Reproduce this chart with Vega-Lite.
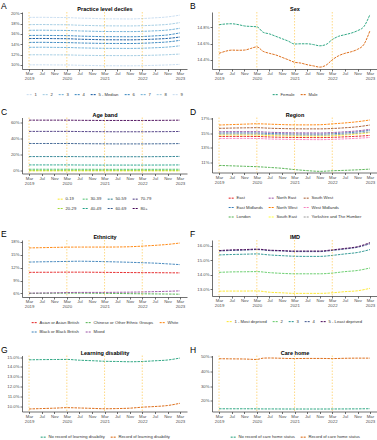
{
"$schema": "https://vega.github.io/schema/vega-lite/v6.json",
"padding": {"left": 1, "top": 2, "right": 0, "bottom": 0},
"datasets": {
"R": [{"t":"2019-03-01"},{"t":"2020-03-01"},{"t":"2021-03-01"},{"t":"2022-03-01"}],
"A": [
{"t":"2019-03-01","1":10.00,"2":11.95,"3":13.40,"4":14.35,"5 - Median":15.10,"6":15.70,"7":16.70,"8":17.80,"9":19.20},
{"t":"2019-07-01","1":10.01,"2":11.96,"3":13.42,"4":14.37,"5 - Median":15.12,"6":15.72,"7":16.72,"8":17.82,"9":19.22},
{"t":"2019-11-01","1":9.99,"2":11.94,"3":13.39,"4":14.34,"5 - Median":15.09,"6":15.69,"7":16.69,"8":17.79,"9":19.19},
{"t":"2020-03-01","1":9.98,"2":11.93,"3":13.37,"4":14.32,"5 - Median":15.07,"6":15.67,"7":16.67,"8":17.77,"9":19.17},
{"t":"2020-07-01","1":9.92,"2":11.87,"3":13.30,"4":14.25,"5 - Median":14.98,"6":15.58,"7":16.58,"8":17.68,"9":19.07},
{"t":"2020-11-01","1":9.88,"2":11.83,"3":13.25,"4":14.20,"5 - Median":14.92,"6":15.52,"7":16.52,"8":17.62,"9":19.01},
{"t":"2021-03-01","1":9.84,"2":11.80,"3":13.21,"4":14.16,"5 - Median":14.87,"6":15.47,"7":16.47,"8":17.57,"9":18.93},
{"t":"2021-07-01","1":9.83,"2":11.80,"3":13.20,"4":14.15,"5 - Median":14.86,"6":15.46,"7":16.46,"8":17.56,"9":18.92},
{"t":"2021-11-01","1":9.82,"2":11.79,"3":13.19,"4":14.14,"5 - Median":14.85,"6":15.45,"7":16.45,"8":17.55,"9":18.90},
{"t":"2022-03-01","1":9.85,"2":11.82,"3":13.23,"4":14.19,"5 - Median":14.90,"6":15.50,"7":16.50,"8":17.60,"9":18.98},
{"t":"2022-07-01","1":9.91,"2":11.88,"3":13.32,"4":14.30,"5 - Median":15.00,"6":15.62,"7":16.60,"8":17.70,"9":19.12},
{"t":"2022-11-01","1":9.99,"2":11.97,"3":13.45,"4":14.45,"5 - Median":15.13,"6":15.80,"7":16.75,"8":17.85,"9":19.30},
{"t":"2023-03-01","1":10.10,"2":12.10,"3":13.70,"4":14.75,"5 - Median":15.40,"6":16.20,"7":17.10,"8":18.20,"9":19.65}
],
"B": [
{"t":"2019-03-01","Female":14.833,"Male":14.480},
{"t":"2019-05-01","Female":14.842,"Male":14.505},
{"t":"2019-07-01","Female":14.845,"Male":14.520},
{"t":"2019-09-01","Female":14.835,"Male":14.518},
{"t":"2019-11-01","Female":14.818,"Male":14.520},
{"t":"2020-01-01","Female":14.812,"Male":14.540},
{"t":"2020-03-01","Female":14.808,"Male":14.560},
{"t":"2020-05-01","Female":14.740,"Male":14.505},
{"t":"2020-07-01","Female":14.720,"Male":14.480},
{"t":"2020-09-01","Female":14.690,"Male":14.460},
{"t":"2020-11-01","Female":14.660,"Male":14.430},
{"t":"2021-01-01","Female":14.630,"Male":14.400},
{"t":"2021-03-01","Female":14.595,"Male":14.370},
{"t":"2021-05-01","Female":14.598,"Male":14.360},
{"t":"2021-07-01","Female":14.598,"Male":14.340},
{"t":"2021-09-01","Female":14.588,"Male":14.325},
{"t":"2021-11-01","Female":14.573,"Male":14.310},
{"t":"2022-01-01","Female":14.590,"Male":14.335},
{"t":"2022-03-01","Female":14.650,"Male":14.400},
{"t":"2022-05-01","Female":14.690,"Male":14.450},
{"t":"2022-07-01","Female":14.710,"Male":14.480},
{"t":"2022-09-01","Female":14.730,"Male":14.500},
{"t":"2022-11-01","Female":14.760,"Male":14.530},
{"t":"2023-01-01","Female":14.810,"Male":14.590},
{"t":"2023-03-01","Female":14.960,"Male":14.760}
],
"C": [
{"t":"2019-03-01","0-19":0.05,"20-29":0.70,"30-39":2.10,"40-49":7.50,"50-59":17.90,"60-69":34.20,"70-79":49.30,"80+":63.30},
{"t":"2019-07-01","0-19":0.05,"20-29":0.70,"30-39":2.10,"40-49":7.50,"50-59":17.90,"60-69":34.20,"70-79":49.30,"80+":63.30},
{"t":"2019-11-01","0-19":0.05,"20-29":0.70,"30-39":2.10,"40-49":7.50,"50-59":17.90,"60-69":34.20,"70-79":49.30,"80+":63.30},
{"t":"2020-03-01","0-19":0.05,"20-29":0.70,"30-39":2.10,"40-49":7.50,"50-59":17.90,"60-69":34.20,"70-79":49.30,"80+":63.30},
{"t":"2020-07-01","0-19":0.05,"20-29":0.68,"30-39":2.05,"40-49":7.40,"50-59":17.80,"60-69":34.00,"70-79":49.10,"80+":63.10},
{"t":"2020-11-01","0-19":0.05,"20-29":0.68,"30-39":2.05,"40-49":7.35,"50-59":17.75,"60-69":33.90,"70-79":49.00,"80+":63.00},
{"t":"2021-03-01","0-19":0.05,"20-29":0.67,"30-39":2.00,"40-49":7.30,"50-59":17.70,"60-69":33.80,"70-79":48.90,"80+":62.90},
{"t":"2021-07-01","0-19":0.05,"20-29":0.67,"30-39":2.00,"40-49":7.30,"50-59":17.70,"60-69":33.70,"70-79":48.80,"80+":62.90},
{"t":"2021-11-01","0-19":0.05,"20-29":0.67,"30-39":2.00,"40-49":7.30,"50-59":17.70,"60-69":33.70,"70-79":48.80,"80+":62.90},
{"t":"2022-03-01","0-19":0.05,"20-29":0.67,"30-39":2.00,"40-49":7.30,"50-59":17.70,"60-69":33.70,"70-79":48.80,"80+":62.90},
{"t":"2022-07-01","0-19":0.05,"20-29":0.68,"30-39":2.02,"40-49":7.35,"50-59":17.80,"60-69":33.80,"70-79":48.90,"80+":63.00},
{"t":"2022-11-01","0-19":0.05,"20-29":0.68,"30-39":2.05,"40-49":7.40,"50-59":17.90,"60-69":33.90,"70-79":49.00,"80+":63.10},
{"t":"2023-03-01","0-19":0.05,"20-29":0.70,"30-39":2.10,"40-49":7.50,"50-59":18.10,"60-69":34.10,"70-79":49.20,"80+":63.30}
],
"D": [
{"t":"2019-03-01","East":14.58,"East Midlands":15.05,"London":10.58,"North East":15.23,"North West":16.16,"South East":14.77,"South West":15.70,"West Midlands":14.30,"Yorkshire and The Humber":14.90},
{"t":"2019-07-01","East":14.59,"East Midlands":15.07,"London":10.52,"North East":15.25,"North West":16.22,"South East":14.79,"South West":15.74,"West Midlands":14.31,"Yorkshire and The Humber":14.92},
{"t":"2019-11-01","East":14.59,"East Midlands":15.07,"London":10.46,"North East":15.25,"North West":16.28,"South East":14.79,"South West":15.77,"West Midlands":14.31,"Yorkshire and The Humber":14.92},
{"t":"2020-03-01","East":14.58,"East Midlands":15.06,"London":10.40,"North East":15.24,"North West":16.33,"South East":14.78,"South West":15.79,"West Midlands":14.30,"Yorkshire and The Humber":14.91},
{"t":"2020-07-01","East":14.51,"East Midlands":14.99,"London":10.30,"North East":15.16,"North West":16.28,"South East":14.71,"South West":15.72,"West Midlands":14.23,"Yorkshire and The Humber":14.84},
{"t":"2020-11-01","East":14.47,"East Midlands":14.95,"London":10.18,"North East":15.11,"North West":16.22,"South East":14.67,"South West":15.67,"West Midlands":14.19,"Yorkshire and The Humber":14.80},
{"t":"2021-03-01","East":14.44,"East Midlands":14.92,"London":10.00,"North East":15.08,"North West":16.18,"South East":14.64,"South West":15.64,"West Midlands":14.16,"Yorkshire and The Humber":14.77},
{"t":"2021-07-01","East":14.43,"East Midlands":14.91,"London":9.86,"North East":15.07,"North West":16.18,"South East":14.63,"South West":15.63,"West Midlands":14.15,"Yorkshire and The Humber":14.76},
{"t":"2021-11-01","East":14.42,"East Midlands":14.90,"London":9.76,"North East":15.06,"North West":16.20,"South East":14.62,"South West":15.63,"West Midlands":14.14,"Yorkshire and The Humber":14.75},
{"t":"2022-03-01","East":14.46,"East Midlands":14.96,"London":9.84,"North East":15.12,"North West":16.32,"South East":14.68,"South West":15.68,"West Midlands":14.18,"Yorkshire and The Humber":14.80},
{"t":"2022-07-01","East":14.53,"East Midlands":15.06,"London":9.90,"North East":15.22,"North West":16.45,"South East":14.78,"South West":15.78,"West Midlands":14.25,"Yorkshire and The Humber":14.90},
{"t":"2022-11-01","East":14.61,"East Midlands":15.20,"London":9.97,"North East":15.35,"North West":16.62,"South East":14.92,"South West":15.92,"West Midlands":14.33,"Yorkshire and The Humber":15.02},
{"t":"2023-03-01","East":14.72,"East Midlands":15.42,"London":10.07,"North East":15.56,"North West":16.86,"South East":15.10,"South West":16.16,"West Midlands":14.44,"Yorkshire and The Humber":15.20}
],
"E": [
{"t":"2019-03-01","Asian or Asian British":10.90,"Black or Black British":13.30,"Chinese or Other Ethnic Groups":6.00,"Mixed":6.05,"White":16.60},
{"t":"2019-07-01","Asian or Asian British":10.92,"Black or Black British":13.36,"Chinese or Other Ethnic Groups":6.02,"Mixed":6.08,"White":16.66},
{"t":"2019-11-01","Asian or Asian British":10.93,"Black or Black British":13.40,"Chinese or Other Ethnic Groups":6.04,"Mixed":6.12,"White":16.72},
{"t":"2020-03-01","Asian or Asian British":10.95,"Black or Black British":13.45,"Chinese or Other Ethnic Groups":6.05,"Mixed":6.18,"White":16.78},
{"t":"2020-07-01","Asian or Asian British":10.95,"Black or Black British":13.50,"Chinese or Other Ethnic Groups":6.04,"Mixed":6.22,"White":16.80},
{"t":"2020-11-01","Asian or Asian British":10.93,"Black or Black British":13.46,"Chinese or Other Ethnic Groups":6.02,"Mixed":6.22,"White":16.80},
{"t":"2021-03-01","Asian or Asian British":10.90,"Black or Black British":13.40,"Chinese or Other Ethnic Groups":6.00,"Mixed":6.22,"White":16.80},
{"t":"2021-07-01","Asian or Asian British":10.88,"Black or Black British":13.33,"Chinese or Other Ethnic Groups":5.97,"Mixed":6.25,"White":16.82},
{"t":"2021-11-01","Asian or Asian British":10.85,"Black or Black British":13.25,"Chinese or Other Ethnic Groups":5.93,"Mixed":6.28,"White":16.88},
{"t":"2022-03-01","Asian or Asian British":10.83,"Black or Black British":13.15,"Chinese or Other Ethnic Groups":5.90,"Mixed":6.33,"White":17.02},
{"t":"2022-07-01","Asian or Asian British":10.82,"Black or Black British":13.05,"Chinese or Other Ethnic Groups":5.87,"Mixed":6.40,"White":17.20},
{"t":"2022-11-01","Asian or Asian British":10.80,"Black or Black British":12.88,"Chinese or Other Ethnic Groups":5.84,"Mixed":6.48,"White":17.42},
{"t":"2023-03-01","Asian or Asian British":10.78,"Black or Black British":12.70,"Chinese or Other Ethnic Groups":5.80,"Mixed":6.58,"White":17.75}
],
"F": [
{"t":"2019-03-01","1 - Most deprived":12.85,"2":14.15,"3":15.35,"4":15.62,"5 - Least deprived":15.65},
{"t":"2019-07-01","1 - Most deprived":12.86,"2":14.18,"3":15.38,"4":15.66,"5 - Least deprived":15.70},
{"t":"2019-11-01","1 - Most deprived":12.86,"2":14.19,"3":15.40,"4":15.68,"5 - Least deprived":15.72},
{"t":"2020-03-01","1 - Most deprived":12.87,"2":14.20,"3":15.42,"4":15.72,"5 - Least deprived":15.75},
{"t":"2020-07-01","1 - Most deprived":12.78,"2":14.13,"3":15.35,"4":15.65,"5 - Least deprived":15.68},
{"t":"2020-11-01","1 - Most deprived":12.74,"2":14.08,"3":15.30,"4":15.62,"5 - Least deprived":15.65},
{"t":"2021-03-01","1 - Most deprived":12.70,"2":14.05,"3":15.26,"4":15.58,"5 - Least deprived":15.62},
{"t":"2021-07-01","1 - Most deprived":12.70,"2":14.05,"3":15.25,"4":15.58,"5 - Least deprived":15.62},
{"t":"2021-11-01","1 - Most deprived":12.70,"2":14.05,"3":15.25,"4":15.58,"5 - Least deprived":15.62},
{"t":"2022-03-01","1 - Most deprived":12.74,"2":14.10,"3":15.32,"4":15.66,"5 - Least deprived":15.70},
{"t":"2022-07-01","1 - Most deprived":12.82,"2":14.20,"3":15.42,"4":15.76,"5 - Least deprived":15.80},
{"t":"2022-11-01","1 - Most deprived":12.88,"2":14.28,"3":15.52,"4":15.88,"5 - Least deprived":15.92},
{"t":"2023-03-01","1 - Most deprived":13.05,"2":14.45,"3":15.72,"4":16.12,"5 - Least deprived":16.20}
],
"G": [
{"t":"2019-03-01","No record of learning disability":14.72,"Record of learning disability":9.70},
{"t":"2019-07-01","No record of learning disability":14.74,"Record of learning disability":9.74},
{"t":"2019-11-01","No record of learning disability":14.75,"Record of learning disability":9.78},
{"t":"2020-03-01","No record of learning disability":14.76,"Record of learning disability":9.83},
{"t":"2020-07-01","No record of learning disability":14.68,"Record of learning disability":9.80},
{"t":"2020-11-01","No record of learning disability":14.63,"Record of learning disability":9.76},
{"t":"2021-03-01","No record of learning disability":14.57,"Record of learning disability":9.72},
{"t":"2021-07-01","No record of learning disability":14.55,"Record of learning disability":9.74},
{"t":"2021-11-01","No record of learning disability":14.52,"Record of learning disability":9.78},
{"t":"2022-03-01","No record of learning disability":14.55,"Record of learning disability":9.88},
{"t":"2022-07-01","No record of learning disability":14.62,"Record of learning disability":9.95},
{"t":"2022-11-01","No record of learning disability":14.70,"Record of learning disability":10.05},
{"t":"2023-03-01","No record of learning disability":14.90,"Record of learning disability":10.28}
],
"H": [
{"t":"2019-03-01","No record of care home status":14.65,"Record of care home status":48.8},
{"t":"2019-07-01","No record of care home status":14.65,"Record of care home status":48.7},
{"t":"2019-11-01","No record of care home status":14.65,"Record of care home status":48.6},
{"t":"2020-03-01","No record of care home status":14.60,"Record of care home status":48.3},
{"t":"2020-05-01","No record of care home status":14.55,"Record of care home status":49.2},
{"t":"2020-07-01","No record of care home status":14.55,"Record of care home status":49.3},
{"t":"2020-11-01","No record of care home status":14.52,"Record of care home status":49.1},
{"t":"2021-03-01","No record of care home status":14.50,"Record of care home status":48.9},
{"t":"2021-07-01","No record of care home status":14.50,"Record of care home status":49.0},
{"t":"2021-11-01","No record of care home status":14.50,"Record of care home status":49.0},
{"t":"2022-03-01","No record of care home status":14.52,"Record of care home status":48.9},
{"t":"2022-07-01","No record of care home status":14.55,"Record of care home status":49.1},
{"t":"2022-11-01","No record of care home status":14.60,"Record of care home status":49.2},
{"t":"2023-03-01","No record of care home status":14.70,"Record of care home status":49.2}
]
},
"columns": 2,
"spacing": {"row": 10.5, "column": 3},
"align": "each",
"resolve": {"scale": {"x": "independent", "y": "independent", "color": "independent"}, "axis": {"x": "independent", "y": "independent"}, "legend": {"color": "independent"}},
"concat": [
{"width": 165, "height": 57, "title": {"text": "A", "dx": -21},
 "layer": [
  {"data": {"name": "A"}, "transform": [{"fold": ["1","2","3","4","5 - Median","6","7","8","9"], "as": ["k","v"]}],
   "mark": {"type": "line", "strokeWidth": 0.9, "strokeDash": [2.5,1], "interpolate": "monotone"},
   "encoding": {
    "x": {"field":"t","type":"temporal","scale":{"type":"utc","domain":[{"year":2018,"month":12,"date":23,"utc":true},{"year":2023,"month":5,"date":8,"utc":true}]},"axis":{"title":null,"labelOverlap":false,"tickCount":30,"values":[{"year":2019,"month":3,"date":1,"utc":true},{"year":2019,"month":7,"date":1,"utc":true},{"year":2019,"month":11,"date":1,"utc":true},{"year":2020,"month":3,"date":1,"utc":true},{"year":2020,"month":7,"date":1,"utc":true},{"year":2020,"month":11,"date":1,"utc":true},{"year":2021,"month":3,"date":1,"utc":true},{"year":2021,"month":7,"date":1,"utc":true},{"year":2021,"month":11,"date":1,"utc":true},{"year":2022,"month":3,"date":1,"utc":true},{"year":2022,"month":7,"date":1,"utc":true},{"year":2022,"month":11,"date":1,"utc":true},{"year":2023,"month":3,"date":1,"utc":true}],"labelExpr":"utcmonth(datum.value) == 2 ? [utcFormat(datum.value, '%b'), utcFormat(datum.value, '%Y')] : utcFormat(datum.value, '%b')"}},
    "y": {"field":"v","type":"quantitative","scale":{"domain":[9.2,20.25],"nice":false,"zero":false},"axis":{"title":"Practice level deciles","values":[10,12,14,16,18,20],"labelExpr":"datum.value + '%'"}},
    "color": {"field":"k","type":"nominal","scale":{"domain":["1","2","3","4","5 - Median","6","7","8","9"],"range":["#c6dbef","#9ecae1","#6baed6","#3182bd","#08519c","#3182bd","#6baed6","#9ecae1","#c6dbef"]},"legend":{"title":null,"columns":9}}
   }},
  {"data": {"name": "R"}, "mark": {"type":"rule","color":"#ffb000","strokeDash":[1.5,1.5],"strokeWidth":0.8,"opacity":0.6},
   "encoding": {"x": {"field":"t","type":"temporal","scale":{"type":"utc","domain":[{"year":2018,"month":12,"date":23,"utc":true},{"year":2023,"month":5,"date":8,"utc":true}]}}}}
 ]},
{"width": 165, "height": 57, "title": {"text": "B", "dx": -22},
 "layer": [
  {"data": {"name": "B"}, "transform": [{"fold": ["Female","Male"], "as": ["k","v"]}],
   "mark": {"type": "line", "strokeWidth": 0.9, "strokeDash": [2.5,1], "interpolate": "monotone"},
   "encoding": {
    "x": {"field":"t","type":"temporal","scale":{"type":"utc","domain":[{"year":2018,"month":12,"date":23,"utc":true},{"year":2023,"month":5,"date":8,"utc":true}]},"axis":{"title":null,"labelOverlap":false,"tickCount":30,"values":[{"year":2019,"month":3,"date":1,"utc":true},{"year":2019,"month":7,"date":1,"utc":true},{"year":2019,"month":11,"date":1,"utc":true},{"year":2020,"month":3,"date":1,"utc":true},{"year":2020,"month":7,"date":1,"utc":true},{"year":2020,"month":11,"date":1,"utc":true},{"year":2021,"month":3,"date":1,"utc":true},{"year":2021,"month":7,"date":1,"utc":true},{"year":2021,"month":11,"date":1,"utc":true},{"year":2022,"month":3,"date":1,"utc":true},{"year":2022,"month":7,"date":1,"utc":true},{"year":2022,"month":11,"date":1,"utc":true},{"year":2023,"month":3,"date":1,"utc":true}],"labelExpr":"utcmonth(datum.value) == 2 ? [utcFormat(datum.value, '%b'), utcFormat(datum.value, '%Y')] : utcFormat(datum.value, '%b')"}},
    "y": {"field":"v","type":"quantitative","scale":{"domain":[14.287,14.99],"nice":false,"zero":false},"axis":{"title":"Sex","values":[14.4,14.6,14.8],"labelExpr":"format(datum.value, '.1f') + '%'"}},
    "color": {"field":"k","type":"nominal","scale":{"domain":["Female","Male"],"range":["#1b9e77","#d95f02"]},"legend":{"title":null,"columns":2}}
   }},
  {"data": {"name": "R"}, "mark": {"type":"rule","color":"#ffb000","strokeDash":[1.5,1.5],"strokeWidth":0.8,"opacity":0.6},
   "encoding": {"x": {"field":"t","type":"temporal","scale":{"type":"utc","domain":[{"year":2018,"month":12,"date":23,"utc":true},{"year":2023,"month":5,"date":8,"utc":true}]}}}}
 ]},
{"width": 165, "height": 56, "title": {"text": "C", "dx": -21},
 "layer": [
  {"data": {"name": "C"}, "transform": [{"fold": ["0-19","20-29","30-39","40-49","50-59","60-69","70-79","80+"], "as": ["k","v"]}],
   "mark": {"type": "line", "strokeWidth": 0.9, "strokeDash": [2.5,1], "interpolate": "monotone"},
   "encoding": {
    "x": {"field":"t","type":"temporal","scale":{"type":"utc","domain":[{"year":2018,"month":12,"date":23,"utc":true},{"year":2023,"month":5,"date":8,"utc":true}]},"axis":{"title":null,"labelOverlap":false,"tickCount":30,"values":[{"year":2019,"month":3,"date":1,"utc":true},{"year":2019,"month":7,"date":1,"utc":true},{"year":2019,"month":11,"date":1,"utc":true},{"year":2020,"month":3,"date":1,"utc":true},{"year":2020,"month":7,"date":1,"utc":true},{"year":2020,"month":11,"date":1,"utc":true},{"year":2021,"month":3,"date":1,"utc":true},{"year":2021,"month":7,"date":1,"utc":true},{"year":2021,"month":11,"date":1,"utc":true},{"year":2022,"month":3,"date":1,"utc":true},{"year":2022,"month":7,"date":1,"utc":true},{"year":2022,"month":11,"date":1,"utc":true},{"year":2023,"month":3,"date":1,"utc":true}],"labelExpr":"utcmonth(datum.value) == 2 ? [utcFormat(datum.value, '%b'), utcFormat(datum.value, '%Y')] : utcFormat(datum.value, '%b')"}},
    "y": {"field":"v","type":"quantitative","scale":{"domain":[-3.2,66.6],"nice":false,"zero":false},"axis":{"title":"Age band","values":[0,20,40,60],"labelExpr":"datum.value + '%'"}},
    "color": {"field":"k","type":"nominal","scale":{"domain":["0-19","30-39","50-59","70-79","20-29","40-49","60-69","80+"],"range":["#fde725","#4ac16d","#277f8e","#46337e","#9fda3a","#1fa187","#365c8d","#440154"]},"legend":{"title":null,"columns":4}}
   }},
  {"data": {"name": "R"}, "mark": {"type":"rule","color":"#ffb000","strokeDash":[1.5,1.5],"strokeWidth":0.8,"opacity":0.6},
   "encoding": {"x": {"field":"t","type":"temporal","scale":{"type":"utc","domain":[{"year":2018,"month":12,"date":23,"utc":true},{"year":2023,"month":5,"date":8,"utc":true}]}}}}
 ]},
{"width": 165, "height": 55, "title": {"text": "D", "dx": -22},
 "layer": [
  {"data": {"name": "D"}, "transform": [{"fold": ["East","East Midlands","London","North East","North West","South East","South West","West Midlands","Yorkshire and The Humber"], "as": ["k","v"]}],
   "mark": {"type": "line", "strokeWidth": 0.9, "strokeDash": [2.5,1], "interpolate": "monotone"},
   "encoding": {
    "x": {"field":"t","type":"temporal","scale":{"type":"utc","domain":[{"year":2018,"month":12,"date":23,"utc":true},{"year":2023,"month":5,"date":8,"utc":true}]},"axis":{"title":null,"labelOverlap":false,"tickCount":30,"values":[{"year":2019,"month":3,"date":1,"utc":true},{"year":2019,"month":7,"date":1,"utc":true},{"year":2019,"month":11,"date":1,"utc":true},{"year":2020,"month":3,"date":1,"utc":true},{"year":2020,"month":7,"date":1,"utc":true},{"year":2020,"month":11,"date":1,"utc":true},{"year":2021,"month":3,"date":1,"utc":true},{"year":2021,"month":7,"date":1,"utc":true},{"year":2021,"month":11,"date":1,"utc":true},{"year":2022,"month":3,"date":1,"utc":true},{"year":2022,"month":7,"date":1,"utc":true},{"year":2022,"month":11,"date":1,"utc":true},{"year":2023,"month":3,"date":1,"utc":true}],"labelExpr":"utcmonth(datum.value) == 2 ? [utcFormat(datum.value, '%b'), utcFormat(datum.value, '%Y')] : utcFormat(datum.value, '%b')"}},
    "y": {"field":"v","type":"quantitative","scale":{"domain":[9.6,17.2],"nice":false,"zero":false},"axis":{"title":"Region","values":[11,13,15,17],"labelExpr":"datum.value + '%'"}},
    "color": {"field":"k","type":"nominal","scale":{"domain":["East","North East","South West","East Midlands","North West","West Midlands","London","South East","Yorkshire and The Humber"],"range":["#e41a1c","#984ea3","#a65628","#377eb8","#ff7f00","#f781bf","#4daf4a","#ffff33","#999999"]},"legend":{"title":null,"columns":3}}
   }},
  {"data": {"name": "R"}, "mark": {"type":"rule","color":"#ffb000","strokeDash":[1.5,1.5],"strokeWidth":0.8,"opacity":0.6},
   "encoding": {"x": {"field":"t","type":"temporal","scale":{"type":"utc","domain":[{"year":2018,"month":12,"date":23,"utc":true},{"year":2023,"month":5,"date":8,"utc":true}]}}}}
 ]},
{"width": 165, "height": 57, "title": {"text": "E", "dx": -21},
 "layer": [
  {"data": {"name": "E"}, "transform": [{"fold": ["Asian or Asian British","Black or Black British","Chinese or Other Ethnic Groups","Mixed","White"], "as": ["k","v"]}],
   "mark": {"type": "line", "strokeWidth": 0.9, "strokeDash": [2.5,1], "interpolate": "monotone"},
   "encoding": {
    "x": {"field":"t","type":"temporal","scale":{"type":"utc","domain":[{"year":2018,"month":12,"date":23,"utc":true},{"year":2023,"month":5,"date":8,"utc":true}]},"axis":{"title":null,"labelOverlap":false,"tickCount":30,"values":[{"year":2019,"month":3,"date":1,"utc":true},{"year":2019,"month":7,"date":1,"utc":true},{"year":2019,"month":11,"date":1,"utc":true},{"year":2020,"month":3,"date":1,"utc":true},{"year":2020,"month":7,"date":1,"utc":true},{"year":2020,"month":11,"date":1,"utc":true},{"year":2021,"month":3,"date":1,"utc":true},{"year":2021,"month":7,"date":1,"utc":true},{"year":2021,"month":11,"date":1,"utc":true},{"year":2022,"month":3,"date":1,"utc":true},{"year":2022,"month":7,"date":1,"utc":true},{"year":2022,"month":11,"date":1,"utc":true},{"year":2023,"month":3,"date":1,"utc":true}],"labelExpr":"utcmonth(datum.value) == 2 ? [utcFormat(datum.value, '%b'), utcFormat(datum.value, '%Y')] : utcFormat(datum.value, '%b')"}},
    "y": {"field":"v","type":"quantitative","scale":{"domain":[5.15,18.45],"nice":false,"zero":false},"axis":{"title":"Ethnicity","values":[6,9,12,15,18],"labelExpr":"datum.value + '%'"}},
    "color": {"field":"k","type":"nominal","scale":{"domain":["Asian or Asian British","Chinese or Other Ethnic Groups","White","Black or Black British","Mixed"],"range":["#e41a1c","#4daf4a","#ff7f00","#377eb8","#984ea3"]},"legend":{"title":null,"columns":3}}
   }},
  {"data": {"name": "R"}, "mark": {"type":"rule","color":"#ffb000","strokeDash":[1.5,1.5],"strokeWidth":0.8,"opacity":0.6},
   "encoding": {"x": {"field":"t","type":"temporal","scale":{"type":"utc","domain":[{"year":2018,"month":12,"date":23,"utc":true},{"year":2023,"month":5,"date":8,"utc":true}]}}}}
 ]},
{"width": 165, "height": 56, "title": {"text": "F", "dx": -22},
 "layer": [
  {"data": {"name": "F"}, "transform": [{"fold": ["1 - Most deprived","2","3","4","5 - Least deprived"], "as": ["k","v"]}],
   "mark": {"type": "line", "strokeWidth": 0.9, "strokeDash": [2.5,1], "interpolate": "monotone"},
   "encoding": {
    "x": {"field":"t","type":"temporal","scale":{"type":"utc","domain":[{"year":2018,"month":12,"date":23,"utc":true},{"year":2023,"month":5,"date":8,"utc":true}]},"axis":{"title":null,"labelOverlap":false,"tickCount":30,"values":[{"year":2019,"month":3,"date":1,"utc":true},{"year":2019,"month":7,"date":1,"utc":true},{"year":2019,"month":11,"date":1,"utc":true},{"year":2020,"month":3,"date":1,"utc":true},{"year":2020,"month":7,"date":1,"utc":true},{"year":2020,"month":11,"date":1,"utc":true},{"year":2021,"month":3,"date":1,"utc":true},{"year":2021,"month":7,"date":1,"utc":true},{"year":2021,"month":11,"date":1,"utc":true},{"year":2022,"month":3,"date":1,"utc":true},{"year":2022,"month":7,"date":1,"utc":true},{"year":2022,"month":11,"date":1,"utc":true},{"year":2023,"month":3,"date":1,"utc":true}],"labelExpr":"utcmonth(datum.value) == 2 ? [utcFormat(datum.value, '%b'), utcFormat(datum.value, '%Y')] : utcFormat(datum.value, '%b')"}},
    "y": {"field":"v","type":"quantitative","scale":{"domain":[12.52,16.38],"nice":false,"zero":false},"axis":{"title":"IMD","values":[13,14,15,16],"labelExpr":"format(datum.value, '.1f') + '%'"}},
    "color": {"field":"k","type":"nominal","scale":{"domain":["1 - Most deprived","2","3","4","5 - Least deprived"],"range":["#fde725","#5ec962","#21918c","#3b528b","#440154"]},"legend":{"title":null,"columns":5}}
   }},
  {"data": {"name": "R"}, "mark": {"type":"rule","color":"#ffb000","strokeDash":[1.5,1.5],"strokeWidth":0.8,"opacity":0.6},
   "encoding": {"x": {"field":"t","type":"temporal","scale":{"type":"utc","domain":[{"year":2018,"month":12,"date":23,"utc":true},{"year":2023,"month":5,"date":8,"utc":true}]}}}}
 ]},
{"width": 165, "height": 56, "title": {"text": "G", "dx": -21},
 "layer": [
  {"data": {"name": "G"}, "transform": [{"fold": ["No record of learning disability","Record of learning disability"], "as": ["k","v"]}],
   "mark": {"type": "line", "strokeWidth": 0.9, "strokeDash": [2.5,1], "interpolate": "monotone"},
   "encoding": {
    "x": {"field":"t","type":"temporal","scale":{"type":"utc","domain":[{"year":2018,"month":12,"date":23,"utc":true},{"year":2023,"month":5,"date":8,"utc":true}]},"axis":{"title":null,"labelOverlap":false,"tickCount":30,"values":[{"year":2019,"month":3,"date":1,"utc":true},{"year":2019,"month":7,"date":1,"utc":true},{"year":2019,"month":11,"date":1,"utc":true},{"year":2020,"month":3,"date":1,"utc":true},{"year":2020,"month":7,"date":1,"utc":true},{"year":2020,"month":11,"date":1,"utc":true},{"year":2021,"month":3,"date":1,"utc":true},{"year":2021,"month":7,"date":1,"utc":true},{"year":2021,"month":11,"date":1,"utc":true},{"year":2022,"month":3,"date":1,"utc":true},{"year":2022,"month":7,"date":1,"utc":true},{"year":2022,"month":11,"date":1,"utc":true},{"year":2023,"month":3,"date":1,"utc":true}],"labelExpr":"utcmonth(datum.value) == 2 ? [utcFormat(datum.value, '%b'), utcFormat(datum.value, '%Y')] : utcFormat(datum.value, '%b')"}},
    "y": {"field":"v","type":"quantitative","scale":{"domain":[9.44,15.16],"nice":false,"zero":false},"axis":{"title":"Learning disability","values":[10,11,12,13,14,15],"labelExpr":"format(datum.value, '.1f') + '%'"}},
    "color": {"field":"k","type":"nominal","scale":{"domain":["No record of learning disability","Record of learning disability"],"range":["#1b9e77","#d95f02"]},"legend":{"title":null,"columns":2}}
   }},
  {"data": {"name": "R"}, "mark": {"type":"rule","color":"#ffb000","strokeDash":[1.5,1.5],"strokeWidth":0.8,"opacity":0.6},
   "encoding": {"x": {"field":"t","type":"temporal","scale":{"type":"utc","domain":[{"year":2018,"month":12,"date":23,"utc":true},{"year":2023,"month":5,"date":8,"utc":true}]}}}}
 ]},
{"width": 165, "height": 56, "title": {"text": "H", "dx": -22},
 "layer": [
  {"data": {"name": "H"}, "transform": [{"fold": ["No record of care home status","Record of care home status"], "as": ["k","v"]}],
   "mark": {"type": "line", "strokeWidth": 0.9, "strokeDash": [2.5,1], "interpolate": "monotone"},
   "encoding": {
    "x": {"field":"t","type":"temporal","scale":{"type":"utc","domain":[{"year":2018,"month":12,"date":23,"utc":true},{"year":2023,"month":5,"date":8,"utc":true}]},"axis":{"title":null,"labelOverlap":false,"tickCount":30,"values":[{"year":2019,"month":3,"date":1,"utc":true},{"year":2019,"month":7,"date":1,"utc":true},{"year":2019,"month":11,"date":1,"utc":true},{"year":2020,"month":3,"date":1,"utc":true},{"year":2020,"month":7,"date":1,"utc":true},{"year":2020,"month":11,"date":1,"utc":true},{"year":2021,"month":3,"date":1,"utc":true},{"year":2021,"month":7,"date":1,"utc":true},{"year":2021,"month":11,"date":1,"utc":true},{"year":2022,"month":3,"date":1,"utc":true},{"year":2022,"month":7,"date":1,"utc":true},{"year":2022,"month":11,"date":1,"utc":true},{"year":2023,"month":3,"date":1,"utc":true}],"labelExpr":"utcmonth(datum.value) == 2 ? [utcFormat(datum.value, '%b'), utcFormat(datum.value, '%Y')] : utcFormat(datum.value, '%b')"}},
    "y": {"field":"v","type":"quantitative","scale":{"domain":[12.8,51.0],"nice":false,"zero":false},"axis":{"title":"Care home","values":[20,30,40,50],"labelExpr":"datum.value + '%'"}},
    "color": {"field":"k","type":"nominal","scale":{"domain":["No record of care home status","Record of care home status"],"range":["#1b9e77","#d95f02"]},"legend":{"title":null,"columns":2}}
   }},
  {"data": {"name": "R"}, "mark": {"type":"rule","color":"#ffb000","strokeDash":[1.5,1.5],"strokeWidth":0.8,"opacity":0.6},
   "encoding": {"x": {"field":"t","type":"temporal","scale":{"type":"utc","domain":[{"year":2018,"month":12,"date":23,"utc":true},{"year":2023,"month":5,"date":8,"utc":true}]}}}}
 ]}
],
"config": {
 "font": "Liberation Sans",
 "view": {"stroke": null},
 "axis": {"grid": false, "domainColor": "#333333", "domainWidth": 0.7, "tickColor": "#333333", "tickWidth": 0.7, "tickSize": 2, "labelFontSize": 4.3, "labelColor": "#4d4d4d", "labelPadding": 1},
 "axisX": {"labelPadding": 0.5, "labelLineHeight": 5.4, "labelFlush": false, "labelOverlap": false},
 "axisY": {"titleAngle": 0, "titleX": 82.5, "titleY": -1.5, "titleAlign": "center", "titleBaseline": "alphabetic", "titleFontSize": 5.5, "titleFontWeight": "bold", "titleColor": "#000000", "titleFont": "Liberation Sans"},
 "title": {"fontSize": 8.5, "fontWeight": "normal", "anchor": "start", "frame": "group", "offset": -4, "baseline": "alphabetic", "color": "#000000"},
 "legend": {"orient": "bottom", "direction": "horizontal", "labelFontSize": 4.2, "labelColor": "#333333", "symbolType": "stroke", "symbolSize": 32, "symbolStrokeWidth": 1, "symbolDash": [2,1], "columnPadding": 3, "rowPadding": 3.5, "labelOffset": 1.5, "offset": 8.5, "layout": {"bottom": {"anchor": "middle"}}}
}
}
